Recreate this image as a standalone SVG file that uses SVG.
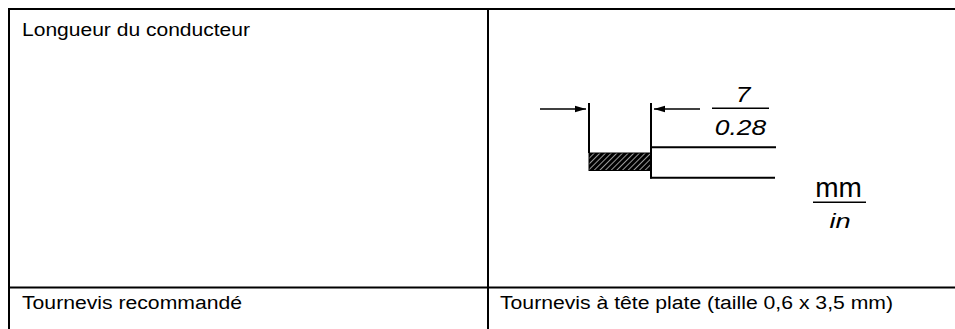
<svg xmlns="http://www.w3.org/2000/svg" width="955" height="329" viewBox="0 0 955 329">
<defs>
<style>
.t{font-family:"Liberation Sans",Arial,sans-serif;font-size:18px;fill:#000}
.i{font-family:"Liberation Sans",Arial,sans-serif;font-style:italic;fill:#000}
.u{font-family:"Liberation Sans",Arial,sans-serif;fill:#000}
.b{stroke:#000;stroke-width:2;fill:none}
.d{stroke:#000;stroke-width:2;fill:none}
.a{stroke:#000;stroke-width:1.5;fill:none}
</style>
<pattern id="hatch" patternUnits="userSpaceOnUse" width="4" height="4" patternTransform="rotate(45)">
<rect width="4" height="4" fill="#000"/>
<line x1="0" y1="0" x2="0" y2="4" stroke="#fff" stroke-width="1.2"/>
</pattern>
<marker id="ah" markerWidth="11" markerHeight="8" refX="11" refY="4" orient="auto" markerUnits="userSpaceOnUse">
<path d="M0,0.8 L11,4 L0,7.2 Z" fill="#000"/>
</marker>
</defs>
<rect width="955" height="329" fill="#fff"/>
<g id="table">
<line class="b" x1="8" y1="9" x2="955" y2="9"/>
<line class="b" x1="9" y1="8" x2="9" y2="329"/>
<line class="b" x1="488" y1="9" x2="488" y2="329"/>
<line class="b" x1="8" y1="287.5" x2="955" y2="287.5"/>
</g>
<g id="cell-longueur"><text class="t" x="22" y="36" textLength="228" lengthAdjust="spacingAndGlyphs">Longueur du conducteur</text></g>
<g id="cell-tournevis"><text class="t" x="22" y="309" textLength="220" lengthAdjust="spacingAndGlyphs">Tournevis recommandé</text></g>
<g id="cell-tournevis-value"><text class="t" x="500" y="309" textLength="393" lengthAdjust="spacingAndGlyphs">Tournevis à tête plate (taille 0,6 x 3,5 mm)</text></g>
<g id="wire-drawing">
<rect x="589" y="153" width="62" height="17.5" fill="url(#hatch)" stroke="#000" stroke-width="1"/>
<line class="d" x1="589" y1="103" x2="589" y2="153"/>
<line class="d" x1="651" y1="103" x2="651" y2="178.5"/>
<line class="d" x1="650" y1="147.3" x2="776" y2="147.3"/>
<line class="d" x1="650" y1="177.7" x2="775" y2="177.7"/>
</g>
<g id="connectors">
<line class="a" x1="540" y1="109" x2="586" y2="109" marker-end="url(#ah)"/>
<line class="a" x1="700" y1="109" x2="654" y2="109" marker-end="url(#ah)"/>
</g>
<g id="dimension-label">
<text class="i" font-size="22" text-anchor="middle" transform="translate(743,101.7) scale(1.2,1)">7</text>
<line class="a" x1="712" y1="108.3" x2="769" y2="108.3"/>
<text class="i" font-size="22" text-anchor="middle" transform="translate(740.5,135) scale(1.2,1)">0.28</text>
</g>
<g id="unit-label">
<text class="u" font-size="28" text-anchor="middle" x="838.5" y="197">mm</text>
<line class="a" x1="813" y1="202.3" x2="866" y2="202.3"/>
<text class="i" font-size="21" text-anchor="middle" transform="translate(840,228) scale(1.3,1)">in</text>
</g>
</svg>
